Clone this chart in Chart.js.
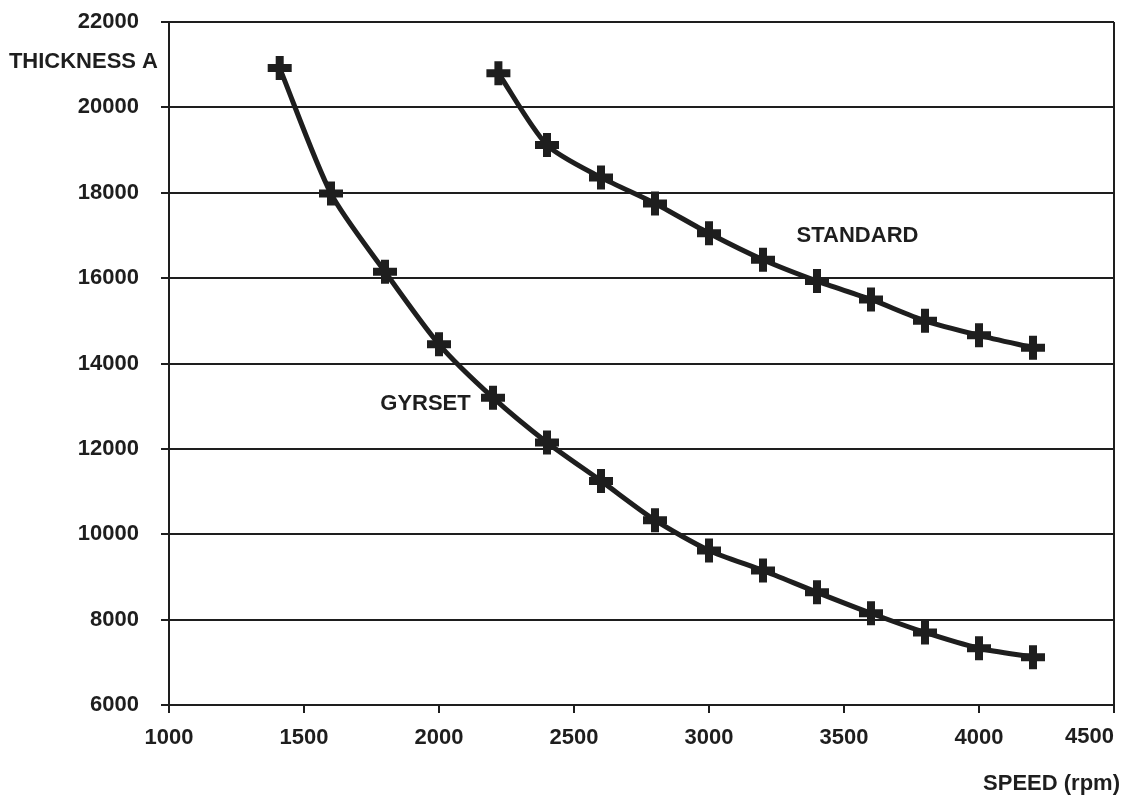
<!DOCTYPE html>
<html>
<head>
<meta charset="utf-8">
<script src="https://cdn.jsdelivr.net/npm/chart.js@4/dist/chart.umd.min.js"></script>
<style>
  html, body { margin: 0; padding: 0; background: #fff; }
  #wrap { width: 1125px; height: 803px; }
</style>
</head>
<body>
<div id="wrap"><canvas id="chart" width="1125" height="803"></canvas></div>
<script>
/* ---- data ---- */
const speedTicks = [1000, 1500, 2000, 2500, 3000, 3500, 4000, 4500];
const thicknessTicks = [6000, 8000, 10000, 12000, 14000, 16000, 18000, 20000, 22000];

const gyrsetSpeed = [1410, 1600, 1800, 2000, 2200, 2400, 2600, 2800, 3000, 3200, 3400, 3600, 3800, 4000, 4200];
const gyrsetThickness = [20920, 17980, 16150, 14450, 13200, 12150, 11250, 10330, 9620, 9150, 8640, 8150, 7700, 7330, 7120];

const standardSpeed = [2220, 2400, 2600, 2800, 3000, 3200, 3400, 3600, 3800, 4000, 4200];
const standardThickness = [20800, 19120, 18360, 17750, 17050, 16430, 15930, 15500, 15000, 14660, 14370];

const curveLabels = [
  { text: "GYRSET", x: 1950, y: 13060 },
  { text: "STANDARD", x: 3550, y: 17000 }
];

const INK = "#1e1e1e";
const FONT = "'Liberation Sans', Arial, sans-serif";

function toPoints(xs, ys) {
  return xs.map((x, i) => ({ x: x, y: ys[i] }));
}

/* ---- extra drawing: right border, axis captions, curve names ---- */
const decorations = {
  id: "decorations",
  afterDraw(chart) {
    const ctx = chart.ctx;
    const area = chart.chartArea;
    const xs = chart.scales.x;
    const ys = chart.scales.y;

    ctx.save();
    ctx.strokeStyle = INK;
    ctx.lineWidth = 2;
    ctx.beginPath();
    ctx.moveTo(area.right, area.top);
    ctx.lineTo(area.right, area.bottom + 8);
    ctx.stroke();

    ctx.fillStyle = INK;
    ctx.font = "bold 22px " + FONT;
    ctx.textBaseline = "middle";
    ctx.textAlign = "right";
    ctx.fillText("THICKNESS A", 158, 62);
    ctx.fillText("SPEED (rpm)", 1120, 784);
    // last x tick label sits pulled in from the frame edge
    ctx.fillText(String(speedTicks[speedTicks.length - 1]), 1114, 737);

    ctx.textAlign = "center";
    curveLabels.forEach(l => {
      ctx.fillText(l.text, xs.getPixelForValue(l.x), ys.getPixelForValue(l.y));
    });
    ctx.restore();
  }
};

const seriesStyle = {
  borderColor: INK,
  backgroundColor: INK,
  borderWidth: 5,
  pointStyle: "cross",
  pointRadius: 12,
  pointBorderWidth: 8,
  pointBorderColor: INK,
  tension: 0.25,
  showLine: true,
  fill: false
};

new Chart(document.getElementById("chart"), {
  type: "scatter",
  data: {
    datasets: [
      Object.assign({ label: "GYRSET", data: toPoints(gyrsetSpeed, gyrsetThickness) }, seriesStyle),
      Object.assign({ label: "STANDARD", data: toPoints(standardSpeed, standardThickness) }, seriesStyle)
    ]
  },
  options: {
    responsive: false,
    animation: false,
    layout: { autoPadding: false, padding: { top: 22, right: 11, left: 0, bottom: 0 } },
    plugins: {
      legend: { display: false },
      tooltip: { enabled: false }
    },
    scales: {
      x: {
        type: "linear",
        min: 1000,
        max: 4500,
        afterBuildTicks: axis => { axis.ticks = speedTicks.map(v => ({ value: v })); },
        afterFit: axis => { axis.height = 98; axis.paddingLeft = 0; axis.paddingRight = 0; },
        grid: { drawOnChartArea: false, drawTicks: true, tickLength: 8, color: INK, lineWidth: 2 },
        border: { color: INK, width: 2 },
        ticks: {
          color: INK,
          padding: 12,
          maxRotation: 0,
          autoSkip: false,
          font: { family: FONT, size: 22, weight: "bold" },
          callback: v => (v === speedTicks[speedTicks.length - 1] ? "" : String(v))
        }
      },
      y: {
        type: "linear",
        min: 6000,
        max: 22000,
        afterBuildTicks: axis => { axis.ticks = thicknessTicks.map(v => ({ value: v })); },
        afterFit: axis => { axis.width = 169; axis.paddingTop = 0; axis.paddingBottom = 0; },
        grid: { drawOnChartArea: true, drawTicks: true, tickLength: 8, color: INK, lineWidth: 2 },
        border: { color: INK, width: 2 },
        ticks: {
          color: INK,
          padding: 22,
          font: { family: FONT, size: 22, weight: "bold" },
          callback: v => String(v)
        }
      }
    }
  },
  plugins: [decorations]
});
</script>
</body>
</html>
